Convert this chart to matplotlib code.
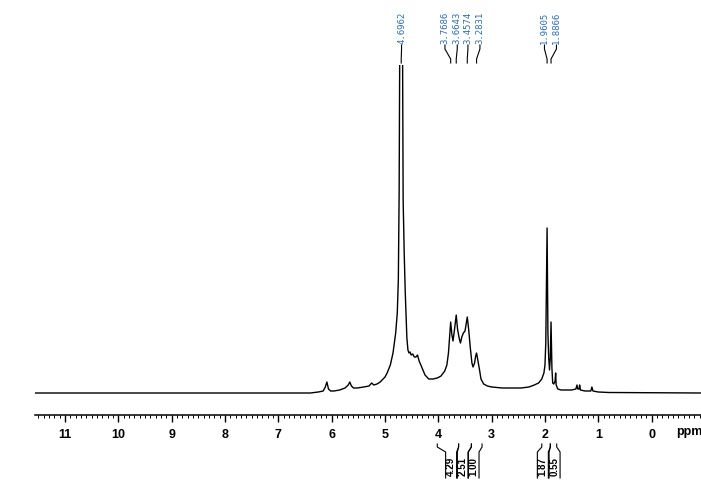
import matplotlib
matplotlib.use('Agg')
import matplotlib.pyplot as plt
from matplotlib.transforms import blended_transform_factory

# Spectrum trace (ppm, intensity in arbitrary units)
ppm = [11.56, 6.40, 6.25, 6.16, 6.12, 6.09, 6.06, 6.02, 5.96, 5.85, 5.75, 5.69, 5.66, 5.63, 5.59,
       5.52, 5.40, 5.30, 5.25, 5.21, 5.15, 5.09, 5.00, 4.96, 4.90, 4.85, 4.80, 4.77, 4.75, 4.735,
       4.725, 4.6962, 4.67, 4.66, 4.64, 4.62, 4.59, 4.57, 4.55, 4.53, 4.51, 4.48, 4.45, 4.42, 4.39,
       4.36, 4.32, 4.25, 4.18, 4.10, 4.02, 3.95, 3.88, 3.84, 3.81, 3.79, 3.7686, 3.745, 3.725, 3.70,
       3.6643, 3.64, 3.61, 3.585, 3.56, 3.53, 3.50, 3.475, 3.4574, 3.43, 3.40, 3.37, 3.35, 3.32,
       3.30, 3.2831, 3.26, 3.23, 3.20, 3.15, 3.08, 3.00, 2.80, 2.60, 2.45, 2.30, 2.20, 2.12, 2.06,
       2.02, 2.00, 1.985, 1.9605, 1.945, 1.93, 1.915, 1.90, 1.8866, 1.87, 1.855, 1.835, 1.81, 1.80,
       1.79, 1.76, 1.70, 1.60, 1.50, 1.42, 1.40, 1.385, 1.36, 1.35, 1.335, 1.25, 1.14, 1.12, 1.10,
       1.00, 0.80, -0.93]
intensity = [0, 0, 1, 2, 6, 11, 4, 2, 2, 3, 5, 8, 11, 7, 5,
             5, 6, 7, 10, 8, 9, 11, 16, 20, 28, 40, 60, 80, 113, 200,
             330, 3000, 330, 193, 140, 100, 55, 43, 40, 41, 38, 39, 36, 36, 38,
             32, 27, 18, 14, 14, 15, 17, 22, 28, 40, 55, 71, 58, 52, 62,
             78, 64, 55, 50, 56, 60, 62, 70, 76, 63, 45, 30, 26, 30,
             37, 40, 33, 24, 14, 9, 7, 6, 5, 5, 5, 6, 8, 10, 14,
             20, 28, 50, 165, 60, 35, 23, 35, 71, 25, 10, 9, 12, 20,
             8, 4, 3, 3, 3, 4, 8, 4, 4, 8, 3, 2, 2, 6, 2,
             1, 0.5, 0]

# Peak picking labels
peak_ppm = [4.6962, 3.7686, 3.6643, 3.4574, 3.2831, 1.9605, 1.8866]
peak_text = ['4.6962', '3.7686', '3.6643', '3.4574', '3.2831', '1.9605', '1.8866']
peak_label_ppm = [4.690, 3.876, 3.645, 3.445, 3.220, 2.010, 1.785]

# Integrals
integral_text = ['4.29', '2.51', '1.00', '1.87', '0.55']
integral_start = [4.02, 3.62, 3.38, 2.06, 1.90]
integral_end = [3.62, 3.38, 3.18, 1.90, 1.78]
integral_label_ppm = [3.76, 3.54, 3.34, 2.04, 1.82]

ticks = [11, 10, 9, 8, 7, 6, 5, 4, 3, 2, 1, 0]

W, H = 701, 486
fig = plt.figure(figsize=(W / 100, H / 100), dpi=100)
ax = fig.add_axes([35 / W, (H - 415) / H, 666 / W, 350 / H])

ax.plot(ppm, intensity, color='black', lw=1.0, solid_joinstyle='round')
ax.set_xlim(11.564, -0.926)
ax.set_ylim(-22, 328)

for s in ['top', 'left', 'right']:
    ax.spines[s].set_visible(False)
ax.spines['bottom'].set_linewidth(1.1)
ax.set_yticks([])
ax.set_xticks(ticks)
ax.set_xticks([t / 10 for t in range(-9, 116)], minor=True)
ax.tick_params(axis='x', which='major', length=5, width=1.0, pad=5)
ax.tick_params(axis='x', which='minor', length=2.5, width=0.7)
for lab in ax.get_xticklabels():
    lab.set_fontfamily('Liberation Sans')
    lab.set_fontweight('bold')
    lab.set_fontsize(9)

fig.text(676 / W, (H - 432) / H, 'ppm', fontfamily='Liberation Sans', fontweight='bold',
         fontsize=9, va='center', ha='left')

tr = blended_transform_factory(ax.transData, fig.transFigure)


def fy(ypx):
    return (H - ypx) / H


label_color = '#2f6ea8'
for p, lp, t in zip(peak_ppm, peak_label_ppm, peak_text):
    ax.plot([lp, lp, p, p], [fy(45), fy(49), fy(59), fy(63)], transform=tr, color='black',
            lw=0.8, clip_on=False)
    ax.text(lp, fy(44), t, transform=tr, rotation=90, ha='center', va='bottom',
            fontfamily='DejaVu Sans Mono', fontsize=6.5, color=label_color)

px = 53.33  # pixels per ppm
for t, a, b, lp in zip(integral_text, integral_start, integral_end, integral_label_ppm):
    left = lp + 5.5 / px
    right = lp - 5.5 / px
    ax.plot([a, a, left, left], [fy(444), fy(447), fy(452), fy(478)], transform=tr,
            color='black', lw=0.8, clip_on=False)
    ax.plot([b, b, right, right], [fy(444), fy(447), fy(452), fy(478)], transform=tr,
            color='black', lw=0.8, clip_on=False)
    ax.text(lp, fy(466.5), t, transform=tr, rotation=90, ha='center', va='center',
            fontfamily='Liberation Sans', fontweight='bold', fontsize=7)

fig.savefig('out.png', dpi=100)
